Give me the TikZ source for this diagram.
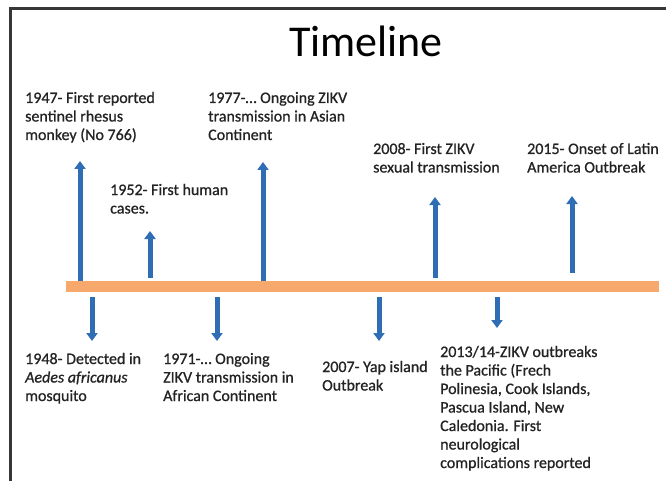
\documentclass[tikz,border=0pt]{standalone}
\usepackage{fontspec}
\setmainfont{Carlito}
\newfontfamily\bodyfont{Carlito}[FakeBold=0.8]
\usetikzlibrary{arrows.meta}
\definecolor{barorange}{RGB}{247,168,108}
\definecolor{arrblue}{RGB}{47,109,181}
\definecolor{txtgray}{RGB}{35,35,35}
\definecolor{framegray}{RGB}{55,55,55}
\newcommand{\evtext}[1]{\begin{tabular}[t]{@{}l@{}}#1\end{tabular}}
\begin{document}
\begin{tikzpicture}[x=1pt,y=-1pt,
  lbl/.style={anchor=base west, inner sep=0pt, text=txtgray, font=\bodyfont\fontsize{16}{18.5}\selectfont},
  ttl/.style={anchor=base, inner sep=0pt, text=black, font=\fontsize{44}{50}\selectfont},
  evarrow/.style={draw=arrblue, line width=5pt, -{Triangle[width=11pt,length=8pt]}},
  barbox/.style={fill=barorange, draw=none, minimum width=593pt, minimum height=11pt, inner sep=0pt}]
\useasboundingbox (0,0) rectangle (666,481);
\fill[white] (0,0) rectangle (666,481);
\draw[framegray, line width=3pt] (10,481) -- (10,8.5) -- (666,8.5);

\node[ttl] (title) at (366,57) {Timeline};

\node[barbox] (bar) at (362.5,286.5) {};

% upper arrows
\coordinate (u1s) at (80,281);  \coordinate (u1e) at (80,161);
\coordinate (u2s) at (150,278); \coordinate (u2e) at (150,231);
\coordinate (u3s) at (263,281); \coordinate (u3e) at (263,162);
\coordinate (u4s) at (435,278); \coordinate (u4e) at (435,197);
\coordinate (u5s) at (572,273); \coordinate (u5e) at (572,196);
\foreach \i in {1,...,5} \draw[evarrow] (u\i s) -- (u\i e);

% lower arrows
\coordinate (d1s) at (92,297);  \coordinate (d1e) at (92,341);
\coordinate (d2s) at (217,297); \coordinate (d2e) at (217,341);
\coordinate (d3s) at (379,297); \coordinate (d3e) at (379,341);
\coordinate (d4s) at (497,297); \coordinate (d4e) at (497,328);
\foreach \i in {1,...,4} \draw[evarrow] (d\i s) -- (d\i e);

% upper labels
\node[lbl] (t1947) at (25,103) {\evtext{1947- First reported\\sentinel rhesus\\monkey (No 766)}};
\node[lbl] (t1977) at (208,103) {\evtext{1977-… Ongoing ZIKV\\transmission in Asian\\Continent}};
\node[lbl] (t1952) at (110,195) {\evtext{1952- First human\\cases.}};
\node[lbl] (t2008) at (373,154) {\evtext{2008- First ZIKV\\sexual transmission}};
\node[lbl] (t2015) at (527,154) {\evtext{2015- Onset of Latin\\America Outbreak}};

% lower labels
\node[lbl] (t1948) at (25,364) {\evtext{1948- Detected in\\\textit{Aedes africanus}\\mosquito}};
\node[lbl] (t1971) at (163,364) {\evtext{1971-… Ongoing\\ZIKV transmission in\\African Continent}};
\node[lbl] (t2007) at (322,372) {\evtext{2007- Yap island\\Outbreak}};
\node[lbl] (t2013) at (440,357) {\evtext{2013/14-ZIKV outbreaks\\the Pacific (Frech\\Polinesia, Cook Islands,\\Pascua Island, New\\Caledonia. First\\neurological\\complications reported}};
\end{tikzpicture}
\end{document}
